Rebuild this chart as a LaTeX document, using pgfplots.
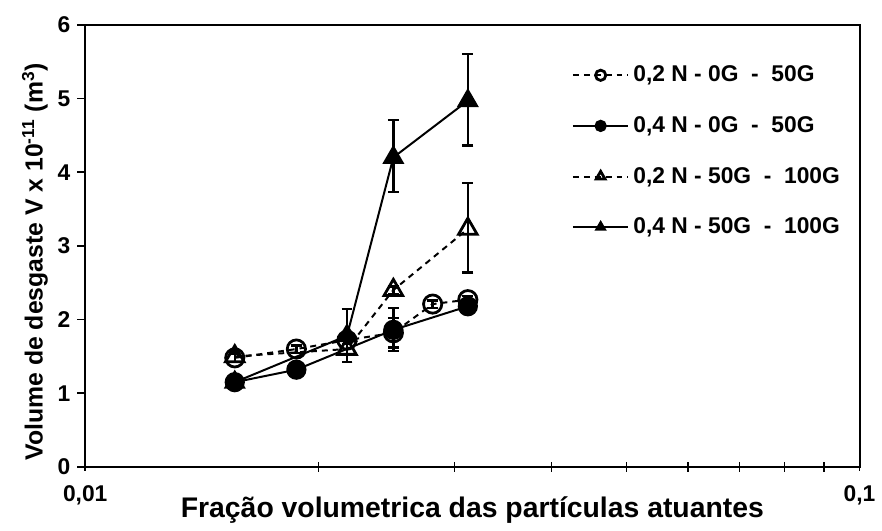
\documentclass[border=0pt]{standalone}
\usepackage{fontspec}
\setmainfont{Liberation Sans}
\usepackage{pgfplots}
\pgfplotsset{compat=1.18}
\usepackage{pgfplotstable}

% x: volume fraction, y: wear volume, ep/em: upper/lower error
\pgfplotstableread{
x       y     ep    em
0.0156  1.48  0.06  0.06
0.01874 1.60  0.05  0.05
0.02178 1.72  0.05  0.05
0.0250  1.82  0.20  0.20
0.0281  2.21  0.05  0.05
0.0312  2.27  0.05  0.05
}\opencirc
\pgfplotstableread{
x       y     ep    em
0.0156  1.15  0.05  0.05
0.01874 1.32  0.03  0.03
0.0250  1.86  0.30  0.29
0.0312  2.18  0.03  0.03
}\fullcirc
\pgfplotstableread{
x       y     ep    em
0.0156  1.50  0.08  0.08
0.02178 1.60  0.18  0.18
0.0250  2.40  0.05  0.05
0.0312  3.23  0.62  0.59
}\opentri
\pgfplotstableread{
x       y     ep    em
0.0156  1.15  0.05  0.05
0.02178 1.78  0.36  0.36
0.0250  4.20  0.51  0.47
0.0312  4.97  0.63  0.61
}\fulltri

\begin{document}
\begin{tikzpicture}
\begin{axis}[
  name=ax,
  scale only axis,
  width=390.5pt, height=223pt,
  xmode=log,
  xmin=0.01, xmax=0.1,
  ymin=0, ymax=6,
  xtick={0.01,0.1},
  xticklabels={{0,01},{0,1}},
  minor xtick={0.02,0.03,0.04,0.05,0.06,0.07,0.08,0.09},
  ytick={0,1,2,3,4,5,6},
  xtick pos=bottom, ytick pos=left,
  xtick align=center, ytick align=outside,
  major tick length=4pt, minor tick length=5pt,
  every tick/.style={black, line width=0.8pt},
  axis line style={line width=1pt},
  tick label style={font=\fontsize{11.5}{12}\selectfont\bfseries},
  /pgf/number format/assume math mode=true,
  x tick label style={yshift=-4pt},
  xlabel={Fração volumetrica das partículas atuantes},
  xlabel style={font=\fontsize{14.3}{15}\selectfont\bfseries, yshift=11pt},
  ylabel={Volume de desgaste V x 10\textsuperscript{-11} (m\textsuperscript{3})},
  ylabel style={font=\fontsize{12.5}{13}\selectfont\bfseries, yshift=-2pt, xshift=-8pt},
  legend style={draw=none, fill=none, at={(0.628,0.917)}, anchor=north west,
    font=\fontsize{11.5}{12}\selectfont\bfseries, row sep=12pt,
    inner sep=0pt},
  legend cell align=left,
  legend image code/.code={%
    \draw[mark repeat=2, mark phase=2, mark size=2.6pt]
      plot coordinates {(0pt,0pt) (14pt,0pt) (28pt,0pt)};},
  error bars/y dir=both,
  error bars/y explicit,
  error bars/error bar style={line width=1.2pt, solid},
  error bars/error mark options={rotate=90, black, line width=1.2pt, mark size=2.75pt, solid},
]
\addplot[black, line width=1pt, dash pattern=on 3pt off 2.5pt,
  mark=o, mark size=4.6pt, mark options={solid, line width=1.4pt}]
  table[x=x, y=y, y error plus=ep, y error minus=em] {\opencirc};
\addlegendentry{0,2 N - 0G \ - \ 50G}
\addplot[black, line width=1pt,
  mark=*, mark size=4.6pt, mark options={solid}]
  table[x=x, y=y, y error plus=ep, y error minus=em] {\fullcirc};
\addlegendentry{0,4 N - 0G \ - \ 50G}
\addplot[black, line width=1pt, dash pattern=on 3pt off 2.5pt,
  mark=triangle, mark size=5.4pt, mark options={solid, line width=1.4pt}]
  table[x=x, y=y, y error plus=ep, y error minus=em] {\opentri};
\addlegendentry{0,2 N - 50G \ - \ 100G}
\addplot[black, line width=1pt,
  mark=triangle*, mark size=5.4pt, mark options={solid}]
  table[x=x, y=y, y error plus=ep, y error minus=em] {\fulltri};
\addlegendentry{0,4 N - 50G \ - \ 100G}
\end{axis}
% page margins around the axis box
\path ([xshift=-43pt,yshift=-23.5pt]ax.south west) rectangle ([xshift=7.5pt,yshift=12.5pt]ax.north east);
\end{tikzpicture}
\end{document}
